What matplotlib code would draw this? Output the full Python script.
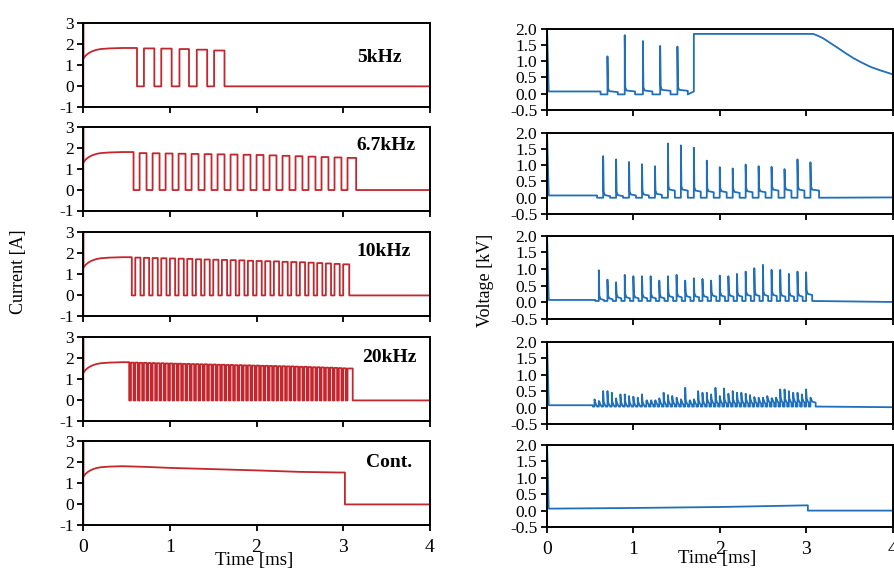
import numpy as np
import matplotlib
matplotlib.use('Agg')
import matplotlib.pyplot as plt

plt.rcParams['font.family'] = ['Liberation Serif', 'DejaVu Serif']
plt.rcParams['axes.unicode_minus'] = False

RED = '#c4262e'
BLUE = '#1f6fba'

# ---- current data ----
rise_t = [0.0, 0.03, 0.06, 0.10, 0.15, 0.20, 0.30, 0.45]
rise_i = [1.30, 1.45, 1.55, 1.64, 1.71, 1.75, 1.78, 1.80]

c5_down = [0.62, 0.82, 1.02, 1.22, 1.43, 1.63]
c5_up = [0.70, 0.90, 1.11, 1.31, 1.51]
c5_top = [1.78, 1.77, 1.75, 1.72, 1.68]

c67_down = [0.58, 0.73, 0.88, 1.03, 1.18, 1.33, 1.48, 1.63, 1.78, 1.93, 2.08,
            2.23, 2.38, 2.53, 2.68, 2.83, 2.98, 3.15]
c67_up = [0.65, 0.80, 0.95, 1.10, 1.25, 1.40, 1.55, 1.70, 1.85, 2.00, 2.15,
          2.30, 2.45, 2.60, 2.75, 2.90, 3.05]
c67_top = [1.75, 1.74, 1.73, 1.72, 1.71, 1.70, 1.69, 1.68, 1.67, 1.66, 1.64,
           1.62, 1.60, 1.58, 1.56, 1.54, 1.52]

c10_down = [0.56, 0.66, 0.76, 0.86, 0.96, 1.06, 1.16, 1.26, 1.36, 1.46, 1.56,
            1.66, 1.76, 1.86, 1.96, 2.06, 2.16, 2.26, 2.36, 2.46, 2.56, 2.66,
            2.76, 2.86, 2.96, 3.07]
c10_up = [0.60, 0.70, 0.80, 0.90, 1.00, 1.10, 1.20, 1.30, 1.40, 1.50, 1.60,
          1.70, 1.80, 1.90, 2.00, 2.10, 2.20, 2.30, 2.40, 2.50, 2.60, 2.70,
          2.80, 2.90, 3.00]
c10_top = [1.78, 1.77, 1.76, 1.75, 1.74, 1.73, 1.72, 1.70, 1.69, 1.68, 1.67,
           1.66, 1.65, 1.63, 1.62, 1.61, 1.60, 1.58, 1.57, 1.56, 1.54, 1.52,
           1.50, 1.48, 1.46]

c20_down = [0.53, 0.58, 0.63, 0.68, 0.73, 0.78, 0.83, 0.88, 0.93, 0.98, 1.03,
            1.08, 1.13, 1.18, 1.23, 1.28, 1.33, 1.38, 1.43, 1.48, 1.53, 1.58,
            1.63, 1.68, 1.73, 1.78, 1.83, 1.88, 1.93, 1.98, 2.03, 2.08, 2.13,
            2.18, 2.23, 2.28, 2.33, 2.38, 2.43, 2.48, 2.53, 2.58, 2.63, 2.68,
            2.73, 2.78, 2.83, 2.88, 2.93, 2.98, 3.03, 3.11]
c20_up = [0.55, 0.60, 0.65, 0.70, 0.75, 0.80, 0.85, 0.90, 0.95, 1.00, 1.05,
          1.10, 1.15, 1.20, 1.25, 1.30, 1.35, 1.40, 1.45, 1.50, 1.55, 1.60,
          1.65, 1.70, 1.75, 1.80, 1.85, 1.90, 1.95, 2.00, 2.05, 2.10, 2.15,
          2.20, 2.25, 2.30, 2.35, 2.40, 2.45, 2.50, 2.55, 2.60, 2.65, 2.70,
          2.75, 2.80, 2.85, 2.90, 2.95, 3.00, 3.05]
c20_top = [1.78, 1.78, 1.77, 1.77, 1.76, 1.76, 1.75, 1.75, 1.74, 1.74, 1.73,
           1.73, 1.72, 1.72, 1.71, 1.71, 1.70, 1.70, 1.69, 1.69, 1.68, 1.68,
           1.67, 1.67, 1.66, 1.66, 1.65, 1.65, 1.64, 1.64, 1.63, 1.63, 1.62,
           1.62, 1.61, 1.61, 1.60, 1.60, 1.59, 1.58, 1.58, 1.57, 1.56, 1.56,
           1.55, 1.54, 1.54, 1.53, 1.52, 1.51, 1.50]

cont_t = [0.45, 0.70, 1.00, 1.50, 2.00, 2.50, 2.95, 3.02, 3.02, 4.0]
cont_i = [1.80, 1.77, 1.72, 1.66, 1.60, 1.53, 1.50, 1.50, -0.02, -0.02]

# ---- voltage data ----
v5_peak = [1.15, 1.80, 1.62, 1.47, 1.45]
v5_plat = [0.08, 0.10, 0.10, 0.12, 0.12]
v5_tail_t = [1.70, 1.70, 3.08, 3.14, 3.20, 3.28, 3.35, 3.45, 3.55, 3.65,
             3.75, 3.88, 4.00]
v5_tail_v = [0.07, 1.84, 1.84, 1.78, 1.70, 1.56, 1.44, 1.26, 1.09, 0.95,
             0.82, 0.70, 0.60]

v67_peak = [1.28, 1.18, 1.10, 1.03, 0.97, 1.67, 1.61, 1.54, 1.14, 0.94, 0.90,
            1.02, 0.97, 0.95, 0.88, 1.18, 1.09]
v67_plat = [0.08, 0.08, 0.10, 0.10, 0.12, 0.25, 0.25, 0.22, 0.20, 0.20, 0.18,
            0.20, 0.20, 0.25, 0.25, 0.25, 0.25]

v10_peak = [0.96, 0.68, 0.60, 0.82, 0.78, 0.78, 0.78, 0.65, 0.78, 0.82, 0.65,
            0.72, 0.70, 0.65, 0.80, 0.78, 0.85, 0.92, 1.02, 1.12, 0.97, 0.97,
            0.85, 0.92, 0.90]
v10_plat = [0.10, 0.12, 0.15, 0.15, 0.15, 0.15, 0.15, 0.15, 0.18, 0.18, 0.18,
            0.18, 0.18, 0.20, 0.20, 0.20, 0.20, 0.22, 0.22, 0.22, 0.22, 0.20,
            0.20, 0.20, 0.25]

v20_peak = [0.25, 0.20, 0.50, 0.50, 0.45, 0.28, 0.40, 0.40, 0.35, 0.33, 0.30,
            0.40, 0.20, 0.15, 0.20, 0.28, 0.45, 0.38, 0.35, 0.30, 0.25, 0.60,
            0.20, 0.25, 0.50, 0.45, 0.45, 0.40, 0.60, 0.35, 0.58, 0.42, 0.50,
            0.45, 0.45, 0.42, 0.38, 0.32, 0.30, 0.30, 0.35, 0.28, 0.30, 0.55,
            0.55, 0.50, 0.45, 0.45, 0.40, 0.55, 0.30]
v20_plat = [0.08] * 12 + [0.12] * 14 + [0.15] * 14 + [0.18] * 11

vcont_t = [0.02, 1.00, 2.00, 3.00, 3.02, 3.02, 4.00]
vcont_v = [0.06, 0.08, 0.11, 0.16, 0.16, 0.00, 0.00]

labels = ['5kHz', '6.7kHz', '10kHz', '20kHz', 'Cont.']
label_xy = [(3.42, 1.37), (3.49, 2.13), (3.47, 2.07), (3.53, 2.0), (3.53, 1.97)]


def current_trace(downs, ups, tops):
    t = [0, 0, 0] + rise_t + [downs[0], downs[0]]
    i = [-1.1, 3.1, rise_i[0]] + rise_i + [1.8, -0.02]
    for k, (u, h) in enumerate(zip(ups, tops)):
        t += [u, u, downs[k + 1], downs[k + 1]]
        i += [-0.02, h, h, -0.02]
    t.append(4.0)
    i.append(-0.02)
    return t, i


def voltage_trace(downs, ups, peaks, plats, low=0.0, tail_t=None, tail_v=None):
    t = [0, 0, 0.02, downs[0], downs[0]]
    v = [-0.2, 2.1, 0.07, 0.07, low]
    for k, (u, p, b) in enumerate(zip(ups, peaks, plats)):
        t += [u, u, u + 0.006, u + 0.02, downs[k + 1], downs[k + 1]]
        v += [low, p, b + 0.1, b, b - 0.03, low]
    if tail_t is None:
        t.append(4.0)
        v.append(0.01)
    else:
        t += tail_t
        v += tail_v
    return t, v


cur = [current_trace(c5_down, c5_up, c5_top),
       current_trace(c67_down, c67_up, c67_top),
       current_trace(c10_down, c10_up, c10_top),
       current_trace(c20_down, c20_up, c20_top),
       ([0, 0, 0] + rise_t + cont_t, [-1.1, 3.1, 1.3] + rise_i + cont_i)]

vol = [voltage_trace(c5_down, c5_up, v5_peak, v5_plat, -0.02, v5_tail_t, v5_tail_v),
       voltage_trace(c67_down, c67_up, v67_peak, v67_plat, 0.0),
       voltage_trace(c10_down, c10_up, v10_peak, v10_plat, 0.04),
       voltage_trace(c20_down, c20_up, v20_peak, v20_plat, 0.03),
       ([0, 0] + vcont_t, [-0.2, 2.1] + vcont_v)]

W, H = 894, 572
fig = plt.figure(figsize=(W / 100, H / 100), dpi=100)

left_top = [22.7, 127, 232, 337, 441]
left_bot = [107, 210.5, 316, 421, 525]
right_top = [28.7, 132.7, 235.5, 341.7, 445]
right_bot = [110, 214, 319, 424, 527]


def style(ax):
    for s in ax.spines.values():
        s.set_linewidth(1.4)
    ax.tick_params(direction='out', length=4, width=1.3, labelsize=12.5,
                   pad=3, colors='black')
    ax.set_xlim(0, 4)
    ax.set_xticks([0, 1, 2, 3, 4])


for r in range(5):
    axl = fig.add_axes([83.3 / W, 1 - left_bot[r] / H, 346.5 / W,
                        (left_bot[r] - left_top[r]) / H])
    t, i = cur[r]
    axl.plot(t, i, color=RED, lw=1.3)
    style(axl)
    axl.set_ylim(-1, 3)
    axl.set_yticks([-1, 0, 1, 2, 3])
    axl.text(*label_xy[r], labels[r], fontsize=14, fontweight='bold',
             ha='center', va='center')

    axr = fig.add_axes([547 / W, 1 - right_bot[r] / H, 345.5 / W,
                        (right_bot[r] - right_top[r]) / H])
    t, v = vol[r]
    axr.plot(t, v, color=BLUE, lw=1.3)
    style(axr)
    axr.set_ylim(-0.5, 2.0)
    axr.set_yticks([-0.5, 0.0, 0.5, 1.0, 1.5, 2.0])
    axr.set_yticklabels(['%.1f' % y for y in [-0.5, 0.0, 0.5, 1.0, 1.5, 2.0]])
    if r < 4:
        axl.set_xticklabels([])
        axr.set_xticklabels([])
    else:
        axl.tick_params(axis='x', pad=6, labelsize=14)
        axr.tick_params(axis='x', pad=6, labelsize=14)

fig.text(254 / W, 1 - 561 / H, 'Time [ms]', fontsize=13.5, ha='center', va='center')
fig.text(717 / W, 1 - 559 / H, 'Time [ms]', fontsize=13.5, ha='center', va='center')
fig.text(18 / W, 1 - 272 / H, 'Current [A]', fontsize=13, rotation=90,
         ha='center', va='center')
fig.text(485 / W, 1 - 280 / H, 'Voltage [kV]', fontsize=13, rotation=90,
         ha='center', va='center')

fig.savefig('out.png', dpi=100)
